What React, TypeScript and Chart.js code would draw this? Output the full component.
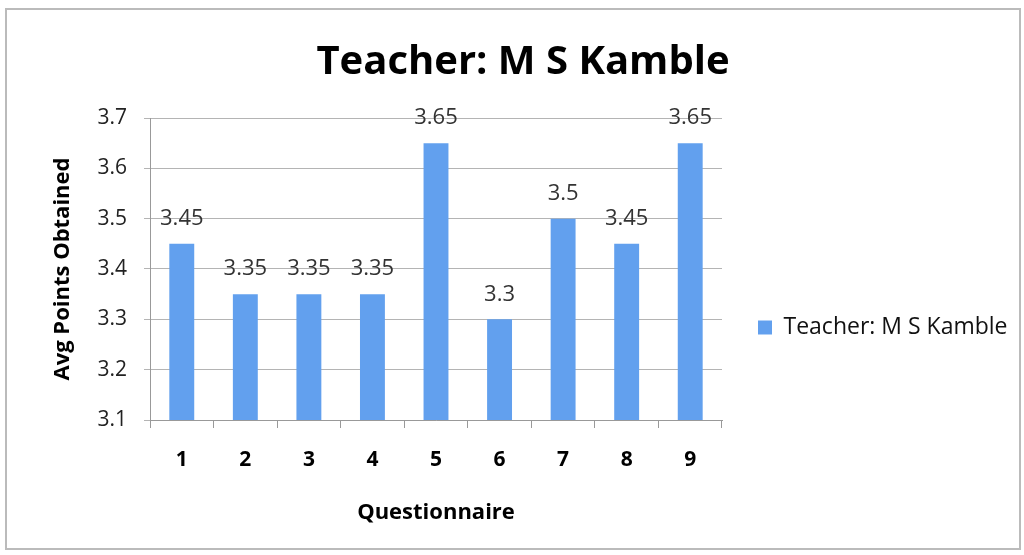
import React, { useEffect, useRef } from "react";
import { Chart, registerables } from "chart.js";

Chart.register(...registerables);

const categories = ["1", "2", "3", "4", "5", "6", "7", "8", "9"];
const values = [3.45, 3.35, 3.35, 3.35, 3.65, 3.3, 3.5, 3.45, 3.65];
const seriesName = "Teacher: M S Kamble";
const titleText = "Teacher: M S Kamble";
const xTitle = "Questionnaire";
const yTitle = "Avg Points Obtained";
const yMin = 3.1;
const yMax = 3.7;
const yStep = 0.1;

const FONT = "'Open Sans', Lato, sans-serif";
const LEGEND_WIDTH = 302;
const LEGEND_TOP = 120;
const TITLE_RIGHT = 998;

const labelPlugin = {
  id: "barLabels",
  afterDatasetsDraw(chart: any) {
    const ctx = chart.ctx;
    const meta = chart.getDatasetMeta(0);
    ctx.save();
    ctx.font = `22px ${FONT}`;
    ctx.fillStyle = "#333";
    ctx.textAlign = "center";
    ctx.textBaseline = "middle";
    meta.data.forEach((bar: any, i: number) => {
      ctx.fillText(String(chart.data.datasets[0].data[i]), bar.x, bar.y - 25);
    });
    ctx.restore();
  },
};

const placePlugin = {
  id: "placeBoxes",
  beforeLayout(chart: any) {
    const lg = chart.legend;
    if (lg && !lg.__patched) {
      const orig = lg.fit.bind(lg);
      lg.fit = function () {
        orig();
        this.width = LEGEND_WIDTH;
      };
      lg.__patched = true;
    }
  },
  afterLayout(chart: any) {
    const lg = chart.legend;
    if (lg) {
      const bottom = lg.bottom;
      lg.top = LEGEND_TOP;
      lg.height = bottom - LEGEND_TOP;
    }
    const tb = chart.titleBlock;
    if (tb) {
      tb.right = TITLE_RIGHT;
      tb.width = tb.right - tb.left;
    }
  },
};

export default function App() {
  const ref = useRef<HTMLCanvasElement>(null);
  useEffect(() => {
    document.body.style.margin = "0";
    const chart = new Chart(ref.current!, {
      type: "bar",
      data: {
        labels: categories,
        datasets: [
          {
            label: seriesName,
            data: values,
            backgroundColor: "#62a0ee",
            barPercentage: 0.8,
            categoryPercentage: 0.49,
          },
        ],
      },
      options: {
        animation: false,
        responsive: false,
        layout: { padding: { left: 48, right: 0, top: 39, bottom: 20 } },
        plugins: {
          title: {
            display: true,
            text: titleText,
            font: { family: FONT, size: 40, weight: "bold" },
            color: "#000",
            padding: { top: 0, bottom: 31 },
          },
          legend: {
            position: "right",
            labels: {
              font: { family: FONT, size: 23 },
              color: "#111",
              boxWidth: 14,
              boxHeight: 14,
              padding: 36,
            },
          },
          tooltip: { enabled: false },
        },
        scales: {
          x: {
            afterFit: (s: any) => {
              s.height = 115;
            },
            grid: {
              display: true,
              drawOnChartArea: false,
              offset: true,
              color: "#999",
              tickLength: 8,
            },
            border: { color: "#999" },
            ticks: {
              font: { family: FONT, size: 21, weight: "bold" },
              color: "#000",
              padding: 19,
            },
            title: {
              display: true,
              text: xTitle,
              font: { family: FONT, size: 22, weight: "bold" },
              color: "#000",
              padding: { top: 0, bottom: 9 },
            },
          },
          y: {
            min: yMin,
            max: yMax,
            afterFit: (s: any) => {
              s.width = 102;
            },
            ticks: {
              stepSize: yStep,
              font: { family: FONT, size: 21 },
              color: "#222",
              padding: 17,
              callback: (v: any) => String(Math.round(Number(v) * 10) / 10),
            },
            grid: { color: "#b4b4b4", tickLength: 6 },
            border: { color: "#999" },
            title: {
              display: true,
              text: yTitle,
              font: { family: FONT, size: 22, weight: "bold" },
              color: "#000",
              padding: { top: 2, bottom: 0 },
            },
          },
        },
      },
      plugins: [labelPlugin, placePlugin],
    });
    return () => chart.destroy();
  }, []);
  return (
    <div style={{ position: "relative", width: 1024, height: 555, background: "#fff" }}>
      <canvas ref={ref} width={1024} height={555} />
      <div
        style={{
          position: "absolute",
          left: 5,
          top: 8,
          width: 1012,
          height: 538,
          border: "2px solid #bbb",
          pointerEvents: "none",
        }}
      />
    </div>
  );
}
